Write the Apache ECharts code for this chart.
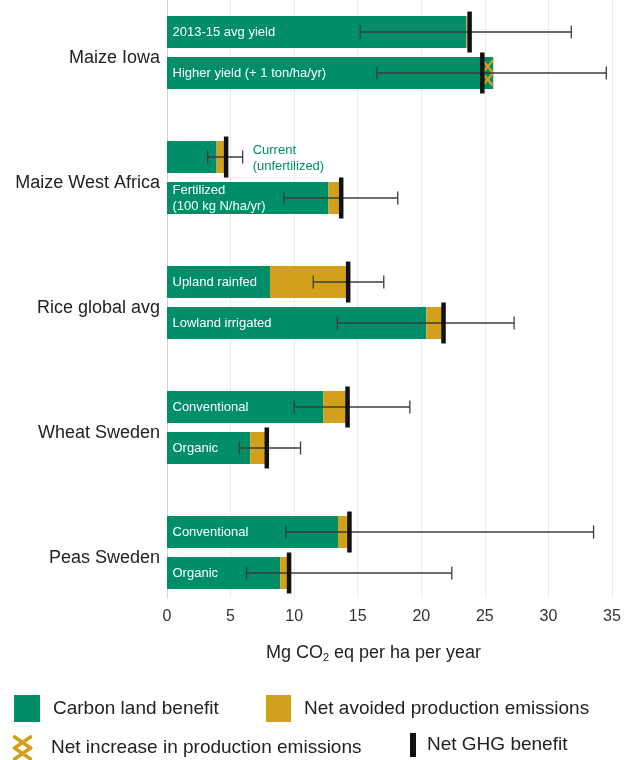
<!DOCTYPE html>
<html><head><meta charset="utf-8">
<script src="https://cdn.jsdelivr.net/npm/echarts@6/dist/echarts.min.js"></script>
<style>html,body{margin:0;padding:0;background:#fff}#c{width:625px;height:760px}</style>
</head><body><div id="c"></div>
<script>
// ---------- data ----------
const groups = ['Maize Iowa', 'Maize West Africa', 'Rice global avg', 'Wheat Sweden', 'Peas Sweden'];
const scenariosTop = ['2013-15 avg yield', 'Current\n(unfertilized)', 'Upland rainfed', 'Conventional', 'Conventional'];
const scenariosBottom = ['Higher yield (+ 1 ton/ha/yr)', 'Fertilized\n(100 kg N/ha/yr)', 'Lowland irrigated', 'Organic', 'Organic'];

const landTop = [23.55, 3.9, 8.1, 12.3, 13.45];
const avoidedTop = [0.1, 0.75, 6.0, 1.8, 0.85];
const increaseTop = [0, 0, 0, 0, 0];
const netTop = [23.8, 4.65, 14.25, 14.2, 14.35];
const errLowTop = [15.2, 3.2, 11.5, 10.0, 9.35];
const errHighTop = [31.8, 5.95, 17.05, 19.1, 33.55];

const landBottom = [25.65, 12.7, 20.4, 6.55, 8.9];
const avoidedBottom = [0, 1.0, 1.25, 1.25, 0.65];
const increaseBottom = [0.85, 0, 0, 0, 0];
const netBottom = [24.8, 13.7, 21.75, 7.85, 9.6];
const errLowBottom = [16.5, 9.2, 13.4, 5.7, 6.25];
const errHighBottom = [34.55, 18.15, 27.3, 10.5, 22.4];

const xMin = 0, xMax = 35, xStep = 5;
const xTitle = '{a|Mg CO}{s|2}{a| eq per ha per year}';
const legendNames = ['Carbon land benefit', 'Net avoided production emissions', 'Net increase in production emissions', 'Net GHG benefit'];

// ---------- styling ----------
const FONT = '"Liberation Sans", Arial, Helvetica, sans-serif';
const GREEN = '#008E69', GOLD = '#D3A01B', BLACK = '#111111', ERR = '#3c3c3c';
const BAR_W = 32, BAR_GAP = 0.28;
const SLOT_OFF = BAR_W * (1 + BAR_GAP) / 2;

// flat list of bars (slot 0 = upper bar in group, slot 1 = lower bar)
const bars = [];
groups.forEach((g, i) => {
  bars.push({g: i, slot: 0, label: scenariosTop[i], land: landTop[i], avoided: avoidedTop[i], inc: increaseTop[i], net: netTop[i], lo: errLowTop[i], hi: errHighTop[i]});
  bars.push({g: i, slot: 1, label: scenariosBottom[i], land: landBottom[i], avoided: avoidedBottom[i], inc: increaseBottom[i], net: netBottom[i], lo: errLowBottom[i], hi: errHighBottom[i]});
});

const mctx = document.createElement('canvas').getContext('2d');
function textWidth(t, size) {
  mctx.font = size + 'px ' + FONT;
  return Math.max.apply(null, t.split('\n').map(s => mctx.measureText(s).width));
}
function slotY(api, b) {
  return api.coord([0, b.g])[1] + (b.slot === 0 ? -SLOT_OFF : SLOT_OFF);
}

function renderErr(params, api) {
  const b = bars[params.dataIndex];
  const y = slotY(api, b);
  const x0 = api.coord([api.value(0), b.g])[0];
  const x1 = api.coord([api.value(1), b.g])[0];
  const xBase = api.coord([0, b.g])[0];
  const xLand = api.coord([b.land, b.g])[0];
  const st = {stroke: ERR, lineWidth: 1.3};
  const cap = 6.5;
  const children = [
    {type: 'line', shape: {x1: x0, y1: y, x2: x1, y2: y}, style: st},
    {type: 'line', shape: {x1: x0, y1: y - cap, x2: x0, y2: y + cap}, style: st},
    {type: 'line', shape: {x1: x1, y1: y - cap, x2: x1, y2: y + cap}, style: st}
  ];
  const fits = textWidth(b.label, 13) + 12 < (xLand - xBase);
  children.push({
    type: 'text', z2: 10,
    style: {
      text: b.label, x: fits ? xBase + 5.5 : x1 + 10, y: fits ? y + 0.5 : y + 1.5,
      fill: fits ? '#ffffff' : GREEN, fontSize: 13, fontFamily: FONT,
      align: 'left', verticalAlign: 'middle', lineHeight: 15.5
    }
  });
  return {type: 'group', children};
}

function renderMarker(params, api) {
  const b = bars[params.dataIndex];
  const y = slotY(api, b);
  const x = api.coord([api.value(0), b.g])[0];
  return {type: 'rect', shape: {x: x - 2.25, y: y - 20.5, width: 4.5, height: 41}, style: {fill: BLACK}};
}

function renderHatch(params, api) {
  const b = bars[params.dataIndex];
  if (!(b.inc > 0)) return null;
  const y = slotY(api, b);
  const xa = api.coord([api.value(0), b.g])[0];
  const xb = api.coord([api.value(1), b.g])[0];
  const top = y - BAR_W / 2, mid = y, bot = y + BAR_W / 2;
  const st = {stroke: GOLD, lineWidth: 2.2, fill: null};
  const pad = 3;
  return {type: 'group', children: [
    {type: 'rect', shape: {x: xa, y: top, width: xb - xa, height: BAR_W}, style: {fill: GREEN}},
    {type: 'polyline', shape: {points: [[xa, top + pad], [xb, mid], [xa, bot - pad]]}, style: st},
    {type: 'polyline', shape: {points: [[xb, top + pad], [xa, mid], [xb, bot - pad]]}, style: st}
  ]};
}

const hatchSvg = "<svg xmlns='http://www.w3.org/2000/svg' width='20' height='26' viewBox='0 0 20 26'>" +
  "<path d='M2 2 L18 13 L2 24 M18 2 L2 13 L18 24' stroke='" + GOLD + "' stroke-width='3.6' fill='none' stroke-linecap='round'/></svg>";
const hatchIcon = 'image://data:image/svg+xml;charset=utf-8,' + encodeURIComponent(hatchSvg);

const legendText = {fontSize: 19, fontFamily: FONT, color: '#222', padding: [0, 0, 0, 8]};

const chart = echarts.init(document.getElementById('c'));
chart.setOption({
  animation: false,
  backgroundColor: '#ffffff',
  grid: [
    {left: 167, right: 13, top: 0, bottom: 162, outerBoundsMode: 'none', containLabel: false},
    {left: 167, right: 13, top: -10, height: 625, outerBoundsMode: 'none', containLabel: false}
  ],
  xAxis: [
    {gridIndex: 0, type: 'value', min: xMin, max: xMax, interval: xStep,
     axisLine: {show: false}, axisTick: {show: false},
     splitLine: {show: true, lineStyle: {color: '#ececec', width: 1}},
     axisLabel: {fontSize: 16, color: '#333', fontFamily: FONT, margin: 11},
     name: xTitle, nameLocation: 'middle', nameGap: 45,
     nameTextStyle: {padding: [0, 32, 0, 0], rich: {
       a: {fontSize: 18, fontFamily: FONT, color: '#222'},
       s: {fontSize: 11, fontFamily: FONT, color: '#222', padding: [9, 0, 0, 0]}
     }}},
    {gridIndex: 1, type: 'value', min: xMin, max: xMax, interval: xStep, show: false}
  ],
  yAxis: [
    {gridIndex: 0, type: 'value', min: 0, max: 1,
     axisLine: {show: true, lineStyle: {color: '#d2d2d2', width: 1}},
     axisTick: {show: false}, axisLabel: {show: false}, splitLine: {show: false}},
    {gridIndex: 1, type: 'category', data: groups, inverse: true,
     axisLine: {show: false}, axisTick: {show: false}, splitLine: {show: false},
     axisLabel: {margin: 7, formatter: v => '{g|' + v + '}',
       rich: {g: {fontSize: 18, color: '#222', fontFamily: FONT, padding: [11, 0, 0, 0]}}}}
  ],
  legend: [
    {data: [{name: legendNames[0], icon: 'rect'}], left: 14, top: 695, padding: 0, itemWidth: 26, itemHeight: 27, textStyle: legendText, selectedMode: false},
    {data: [{name: legendNames[1], icon: 'rect'}], left: 266, top: 695, padding: 0, itemWidth: 25, itemHeight: 27, textStyle: legendText, selectedMode: false},
    {data: [{name: legendNames[2], icon: hatchIcon}], left: 12, top: 735, padding: 0, itemWidth: 21, itemHeight: 26, textStyle: Object.assign({}, legendText, {padding: [0, 0, 0, 13]}), selectedMode: false},
    {data: [{name: legendNames[3], icon: 'rect'}], left: 410, top: 733, padding: 0, itemWidth: 6, itemHeight: 24, textStyle: Object.assign({}, legendText, {padding: [0, 0, 0, 6]}), selectedMode: false}
  ],
  series: [
    {type: 'bar', name: legendNames[0], xAxisIndex: 1, yAxisIndex: 1, stack: 'top', data: landTop,
     barWidth: BAR_W, barGap: (BAR_GAP * 100) + '%', itemStyle: {color: GREEN}, z: 2},
    {type: 'bar', name: legendNames[1], xAxisIndex: 1, yAxisIndex: 1, stack: 'top', data: avoidedTop,
     barWidth: BAR_W, barGap: (BAR_GAP * 100) + '%', itemStyle: {color: GOLD}, z: 2},
    {type: 'bar', name: legendNames[0], xAxisIndex: 1, yAxisIndex: 1, stack: 'bottom', data: landBottom,
     barWidth: BAR_W, barGap: (BAR_GAP * 100) + '%', itemStyle: {color: GREEN}, z: 2},
    {type: 'bar', name: legendNames[1], xAxisIndex: 1, yAxisIndex: 1, stack: 'bottom', data: avoidedBottom,
     barWidth: BAR_W, barGap: (BAR_GAP * 100) + '%', itemStyle: {color: GOLD}, z: 2},
    {type: 'custom', name: legendNames[2], xAxisIndex: 1, yAxisIndex: 1, z: 3,
     itemStyle: {color: GOLD}, renderItem: renderHatch,
     encode: {x: [0, 1], y: 2},
     data: bars.map(b => [b.land - b.inc, b.land, b.g])},
    {type: 'custom', name: 'error', xAxisIndex: 1, yAxisIndex: 1, z: 4,
     renderItem: renderErr, encode: {x: [0, 1], y: 2},
     data: bars.map(b => [b.lo, b.hi, b.g])},
    {type: 'custom', name: legendNames[3], xAxisIndex: 1, yAxisIndex: 1, z: 5,
     itemStyle: {color: BLACK}, renderItem: renderMarker, encode: {x: 0, y: 1},
     data: bars.map(b => [b.net, b.g])}
  ]
});
</script>
</body></html>
